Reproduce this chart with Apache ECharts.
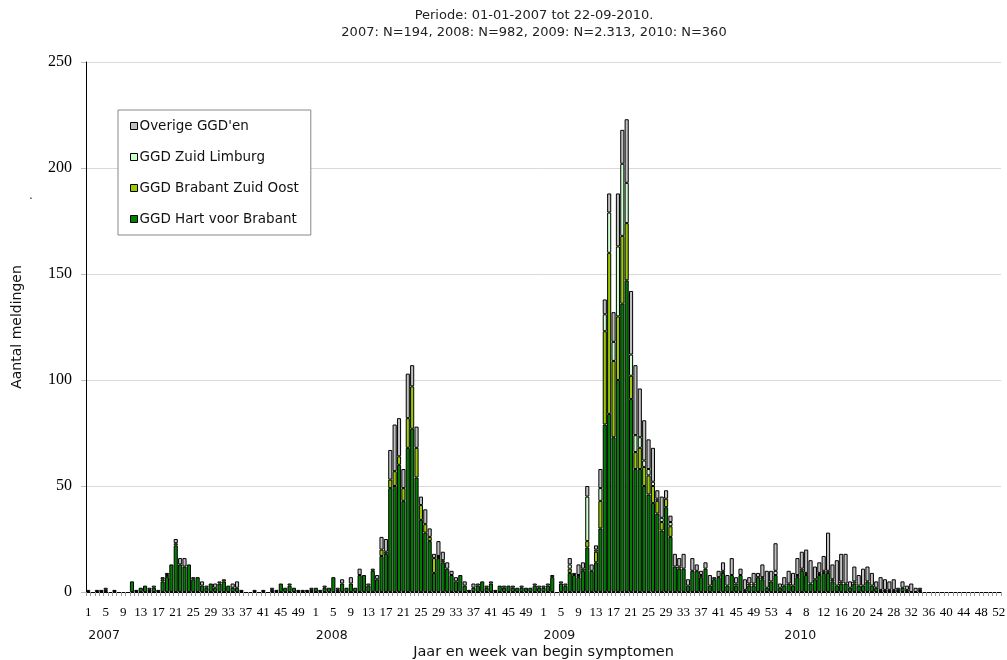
<!DOCTYPE html>
<html><head><meta charset="utf-8">
<script src="https://cdn.jsdelivr.net/npm/echarts@6/dist/echarts.min.js"></script>
<style>html,body{margin:0;padding:0;background:#fff}#c{width:1007px;height:660px}</style>
</head><body><div id="c"></div>
<script>
// ---- categories ----
const years = ['2007', '2008', '2009', '2010'];
const weeksPerYear = [52, 52, 53, 52];
const yearLabelWeek = [1, 1, 1, 3];

// ---- GGD Hart voor Brabant ----
const hvb2007 = [1,0,1,1,1,0,1,0,0,0, 5,1,2,3,1,2,1,5,7,13, 22,13,12,13,6,7,3,2,4,2, 4,5,3,2,2,1,0,0,0,0, 1,0,1,1,4,2,3,2,1,1, 1,1];
const hvb2008 = [2,1,2,2,7,1,4,2,4,2, 8,8,3,10,6,17,18,49,50,60, 43,68,77,54,34,28,24,9,16,14, 11,8,5,8,3,1,2,3,5,2, 4,1,3,2,3,2,2,2,2,2, 3,2];
const hvb2009 = [2,3,7,0,4,3,9,8,7,10, 21,10,14,30,79,84,73,100,136,147, 91,58,58,50,46,42,37,29,40,26, 12,11,11,3,10,10,7,11,3,6, 7,9,3,8,3,8,1,3,3,7, 6,2,5];
const hvb2010 = [8,2,3,4,3,7,10,8,4,6, 8,9,9,5,3,4,4,2,4,3, 3,5,3,2,1,1,1,1,1,2, 1,0,0,1,0,0,0,0,0,0, 0,0,0,0,0,0,0,0,0,0, 0,0];

// ---- GGD Brabant Zuid Oost ----
const bzo2007 = [0,0,0,0,0,0,0,0,0,0, 0,0,0,0,0,0,0,1,1,0, 1,0,0,0,0,0,0,0,0,0, 0,1,0,0,0,0,0,0,0,0, 0,0,0,0,0,0,1,0,0,0, 0,0];
const bzo2008 = [0,0,0,0,0,0,0,0,0,0, 0,0,0,1,0,3,1,4,7,4, 6,14,20,14,7,4,2,7,1,1, 0,0,0,0,0,0,0,0,0,0, 0,0,0,0,0,0,0,0,0,0, 0,0];
const bzo2009 = [0,0,1,0,0,0,2,0,0,1, 3,0,5,13,44,76,36,30,32,27, 11,8,10,9,9,8,6,4,4,5, 0,1,0,0,0,0,1,0,0,0, 0,1,0,0,1,0,0,1,1,0, 1,0,0];
const bzo2010 = [0,0,0,0,0,0,1,1,0,0, 0,1,1,1,0,1,0,0,1,0, 0,0,0,0,0,0,0,0,0,0, 0,0,0,0,0,0,0,0,0,0, 0,0,0,0,0,0,0,0,0,0, 0,0];

// ---- GGD Zuid Limburg ----
const zl2007 = [0,0,0,0,0,0,0,0,0,0, 0,0,0,0,0,0,0,0,0,0, 0,0,0,0,0,0,0,0,0,0, 0,0,0,0,0,0,0,0,0,0, 0,0,0,0,0,0,0,0,0,0, 0,0];
const zl2008 = [0,0,0,0,0,0,0,0,0,0, 0,0,0,0,0,0,0,0,0,0, 0,0,0,0,0,0,0,0,0,0, 0,0,0,0,0,0,0,0,0,0, 0,0,0,0,0,0,0,0,0,0, 0,0];
const zl2009 = [0,0,0,0,0,0,2,0,1,0, 21,0,1,6,8,19,9,33,34,19, 10,8,5,3,3,2,1,2,0,2, 0,0,0,0,0,0,0,0,0,0, 0,0,0,0,0,0,0,0,0,0, 0,0,0];
const zl2010 = [2,0,0,0,0,1,0,0,0,0, 1,0,0,0,0,0,0,0,0,0, 0,0,0,0,0,0,0,0,0,0, 0,0,0,0,0,0,0,0,0,0, 0,0,0,0,0,0,0,0,0,0, 0,0];

// ---- Overige GGD'en ----
const ov2007 = [0,0,0,0,1,0,0,0,0,0, 0,0,0,0,1,1,0,1,1,0, 2,3,4,0,1,0,2,1,0,2, 1,0,0,2,3,0,0,0,1,0, 0,0,1,0,0,0,0,0,0,0, 0,1];
const ov2008 = [0,0,1,0,0,1,2,0,3,0, 3,0,1,0,2,6,6,14,22,18, 9,21,10,10,4,7,4,2,7,4, 3,2,2,0,2,0,2,1,0,1, 1,0,0,1,0,1,0,1,0,0, 1,1];
const ov2009 = [1,1,0,0,1,1,3,1,5,3, 5,3,2,9,7,9,14,25,16,30, 30,33,23,19,14,16,4,10,4,3, 6,4,7,3,6,3,2,3,5,1, 3,4,5,8,3,3,5,3,5,2, 6,8,5];
const ov2010 = [13,2,4,6,6,8,8,11,11,6, 5,7,18,7,12,13,14,3,7,5, 8,7,6,3,6,5,4,5,1,3, 2,4,2,1,0,0,0,0,0,0, 0,0,0,0,0,0,0,0,0,0, 0,0];

const weekLabels = [], yearLabels = [];
weeksPerYear.forEach((n, y) => {
  for (let w = 1; w <= n; w++) {
    weekLabels.push(String(w));
    yearLabels.push(w === yearLabelWeek[y] ? years[y] : '');
  }
});
const clean = a => a.map(v => v === 0 ? null : v);
const hvb = clean([...hvb2007, ...hvb2008, ...hvb2009, ...hvb2010]);
const bzo = clean([...bzo2007, ...bzo2008, ...bzo2009, ...bzo2010]);
const zl  = clean([...zl2007, ...zl2008, ...zl2009, ...zl2010]);
const ov  = clean([...ov2007, ...ov2008, ...ov2009, ...ov2010]);

const names = ['GGD Hart voor Brabant', 'GGD Brabant Zuid Oost', 'GGD Zuid Limburg', "Overige GGD'en"];
const colors = ['#008000', '#99CC00', '#CCFFCC', '#C0C0C0'];
const sans = 'DejaVu Sans';
const serif = 'Liberation Serif';

const chart = echarts.init(document.getElementById('c'), null, {renderer: 'canvas'});
chart.setOption({
  animation: false,
  backgroundColor: '#fff',
  title: {
    text: 'Periode: 01-01-2007 tot 22-09-2010.\n2007: N=194, 2008: N=982, 2009: N=2.313, 2010: N=360',
    left: 529, top: 2, textAlign: 'center',
    textStyle: {fontFamily: sans, fontSize: 13, fontWeight: 'normal', color: '#222', lineHeight: 17}
  },
  legend: {
    orient: 'vertical', left: 118, top: 110,
    data: [names[3], names[2], names[1], names[0]],
    itemWidth: 7, itemHeight: 7, itemGap: 15,
    padding: [8, 12, 8, 12],
    borderColor: '#888', borderWidth: 1, backgroundColor: '#fff',
    icon: 'rect',
    itemStyle: {borderColor: '#000', borderWidth: 1},
    textStyle: {fontFamily: sans, fontSize: 13.5, color: '#111', lineHeight: 16, padding: [0, 0, 0, -3]}
  },
  grid: {left: 86, right: 6, top: 62, bottom: 68, containLabel: false, outerBoundsMode: 'none'},
  xAxis: [{
    type: 'category', data: weekLabels,
    axisLine: {lineStyle: {color: '#000', width: 1}},
    axisTick: {show: true, interval: 0, length: 4, lineStyle: {color: '#999'}},
    axisLabel: {interval: 3, fontFamily: serif, fontSize: 13, color: '#000', margin: 14},
    name: 'Jaar en week van begin symptomen', nameLocation: 'middle', nameGap: 53,
    nameTextStyle: {fontFamily: sans, fontSize: 14.5, color: '#111'}
  }, {
    type: 'category', data: yearLabels, position: 'bottom',
    axisLine: {show: false}, axisTick: {show: false}, splitLine: {show: false},
    axisLabel: {interval: 0, align: 'left', margin: 37, fontFamily: sans, fontSize: 12.5, color: '#111'}
  }],
  yAxis: {
    type: 'value', min: 0, max: 250, interval: 50,
    axisLine: {show: true, lineStyle: {color: '#000', width: 1}},
    axisTick: {show: true, length: 5, lineStyle: {color: '#bbb'}},
    axisLabel: {fontFamily: serif, fontSize: 16, color: '#000', margin: 14},
    splitLine: {lineStyle: {color: '#d9d9d9', width: 1}},
    name: 'Aantal meldingen', nameLocation: 'middle', nameGap: 62,
    nameTextStyle: {fontFamily: sans, fontSize: 14, color: '#111'}
  },
  graphic: [{type: 'text', left: 29, top: 190, style: {text: '.', fontFamily: sans, fontSize: 12, fill: '#333'}}],
  series: [hvb, bzo, zl, ov].map((d, k) => ({
    name: names[k], type: 'bar', stack: 'total', data: d,
    barCategoryGap: '6%',
    itemStyle: {color: colors[k], borderColor: '#000', borderWidth: 1},
    emphasis: {disabled: true}
  }))
});
</script></body></html>
